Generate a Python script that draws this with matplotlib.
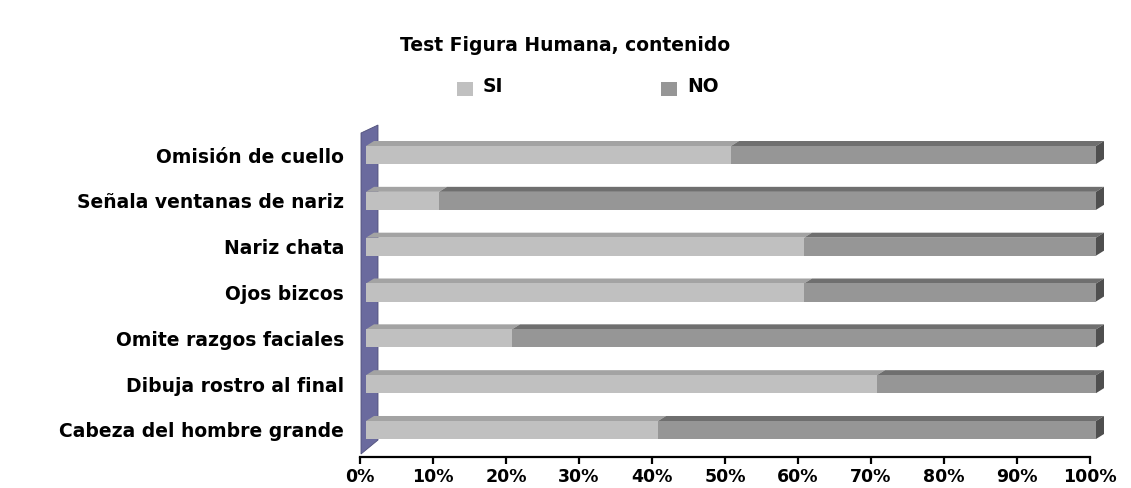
import matplotlib
matplotlib.use("Agg")
import matplotlib.pyplot as plt
from matplotlib.patches import Polygon, Rectangle
import numpy as np

# ---------------- data ----------------
categories = [
    "Cabeza del hombre grande",
    "Dibuja rostro al final",
    "Omite razgos faciales",
    "Ojos bizcos",
    "Nariz chata",
    "Señala ventanas de nariz",
    "Omisión de cuello",
]
si_values = [40, 70, 20, 60, 60, 10, 50]
no_values = [60, 30, 80, 40, 40, 90, 50]
series_names = ["SI", "NO"]
xticks = [0, 10, 20, 30, 40, 50, 60, 70, 80, 90, 100]
xtick_labels = ["0%", "10%", "20%", "30%", "40%", "50%", "60%", "70%", "80%", "90%", "100%"]
title = "Test Figura Humana, contenido"

# ---------------- style ----------------
W, H = 1131, 488
C_SI, C_SI_TOP = "#C0C0C0", "#A3A3A3"
C_NO, C_NO_TOP = "#969696", "#6F6F6F"
C_END = "#4F4F4F"
C_WALL = "#6A6A9E"
FONT = "DejaVu Sans"
FS = 13.5

fig = plt.figure(figsize=(W / 100, H / 100), dpi=100)
fig.patch.set_facecolor("white")

ax_left, ax_right, ax_top, ax_bot = 360, 1090, 125, 457
ax = fig.add_axes([ax_left / W, 1 - ax_bot / H, (ax_right - ax_left) / W, (ax_bot - ax_top) / H])
step = 45.83
first_center = 430
ax.set_xlim(0, 100)
ax.set_ylim(-(ax_bot - first_center) / step, (len(categories) - 1) + (155 - ax_top) / step)

# pixel -> data units
ux = 100 / (ax_right - ax_left)
uy = 1 / step
front_off = 6 * ux
ddx, ddy = 8 * ux, 5 * uy
h = 18 * uy

y = np.arange(len(categories))
si = np.array(si_values, dtype=float)
no = np.array(no_values, dtype=float)

# side wall
inv = ax.transData.inverted()
def pix2data(px, py):
    return inv.transform(fig.transFigure.transform((px / W, 1 - py / H)))
wall_pts = [pix2data(361, 454), pix2data(361, 133), pix2data(378, 125), pix2data(378, 440)]
ax.add_patch(Polygon(wall_pts, closed=True, facecolor=C_WALL, edgecolor="#50507a",
                     linewidth=0.6, clip_on=False, zorder=1))

# front faces
b1 = ax.barh(y, si, left=front_off, height=h, color=C_SI, zorder=3, label=series_names[0])
b2 = ax.barh(y, no, left=si + front_off, height=h, color=C_NO, zorder=3, label=series_names[1])
for p in list(b1) + list(b2):
    p.set_clip_on(False)

# top and end faces
for yi, s, n in zip(y, si, no):
    yt = yi + h / 2
    yb = yi - h / 2
    for l, r, c in ((0, s, C_SI_TOP), (s, s + n, C_NO_TOP)):
        pts = [(l + front_off, yt), (r + front_off, yt),
               (r + front_off + ddx, yt + ddy), (l + front_off + ddx, yt + ddy)]
        ax.add_patch(Polygon(pts, closed=True, facecolor=c, edgecolor="none",
                             clip_on=False, zorder=2))
    xe = s + n + front_off
    pts = [(xe, yb), (xe, yt), (xe + ddx, yt + ddy), (xe + ddx, yb + ddy)]
    ax.add_patch(Polygon(pts, closed=True, facecolor=C_END, edgecolor="none",
                         clip_on=False, zorder=2))

# axis styling
for sp in ("left", "top", "right"):
    ax.spines[sp].set_visible(False)
ax.spines["bottom"].set_linewidth(1.6)
ax.spines["bottom"].set_color("black")
ax.set_facecolor("none")
ax.set_xticks(xticks)
ax.set_xticklabels(xtick_labels, fontsize=12.5, fontweight="bold", family=FONT)
ax.tick_params(axis="x", direction="out", length=5, width=1.6, pad=3)
ax.set_yticks(y)
ax.set_yticklabels(categories, fontsize=FS, fontweight="bold", family=FONT)
ax.tick_params(axis="y", length=0, pad=11.5)

# title
fig.text(565 / W, 1 - 46 / H, title, ha="center", va="center",
         fontsize=FS, fontweight="bold", family=FONT)

# legend (manual)
for (sq_x, tx_x, name, col) in ((457, 483, series_names[0], C_SI), (661, 687, series_names[1], C_NO)):
    fig.patches.append(Rectangle((sq_x / W, 1 - 96 / H), 16 / W, 14 / H,
                                 transform=fig.transFigure, facecolor=col, edgecolor="none"))
    fig.text(tx_x / W, 1 - 86 / H, name, ha="left", va="center",
             fontsize=FS, fontweight="bold", family=FONT)

fig.savefig("out.png", dpi=100, facecolor="white")
